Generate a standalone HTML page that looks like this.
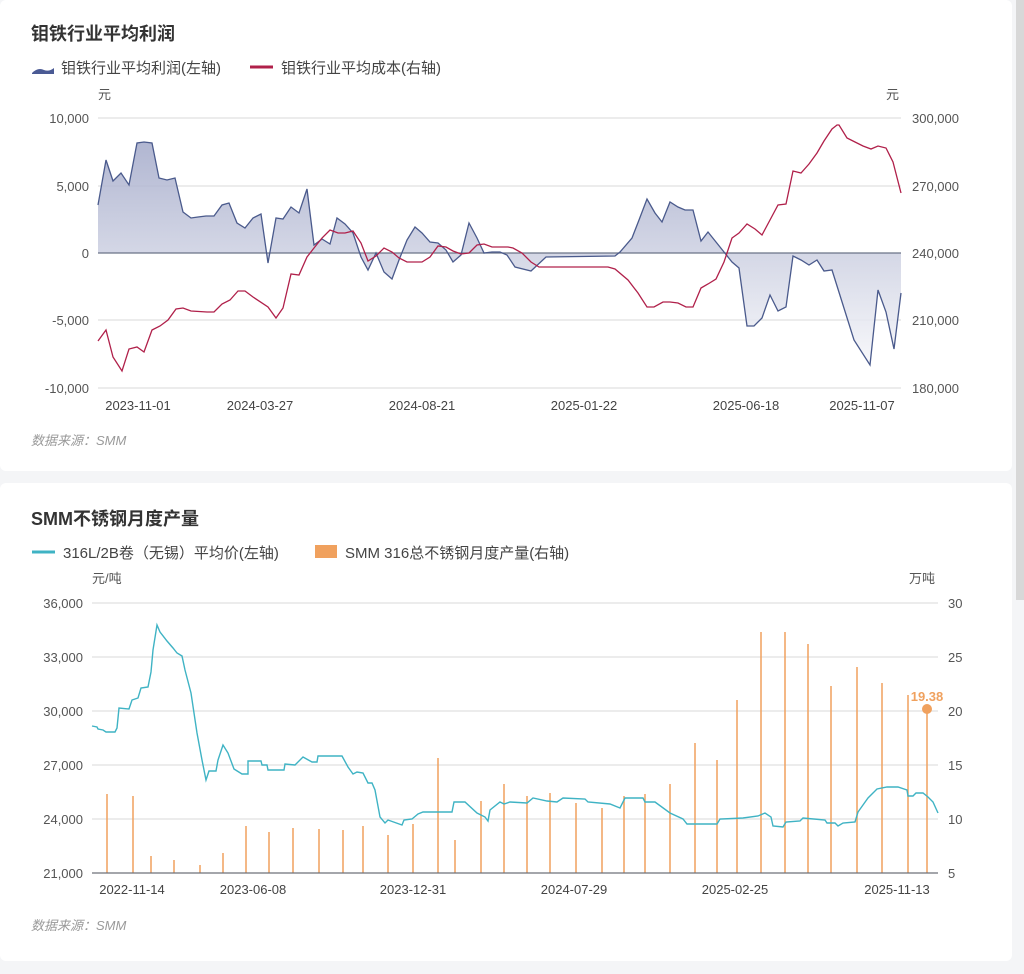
<!DOCTYPE html>
<html><head><meta charset="utf-8"><style>
html,body{margin:0;padding:0;background:#f4f5f7;width:1024px;height:974px;overflow:hidden}
svg{display:block;font-family:"Liberation Sans","Noto Sans CJK SC",sans-serif}
</style></head><body>
<svg width="1024" height="974" viewBox="0 0 1024 974" xmlns="http://www.w3.org/2000/svg">
<defs>
<linearGradient id="g1" gradientUnits="userSpaceOnUse" x1="0" y1="118" x2="0" y2="388">
<stop offset="0" stop-color="#9aa1c4"/><stop offset="1" stop-color="#ffffff"/></linearGradient>
</defs>
<rect x="0" y="0" width="1012" height="471" rx="6" fill="#fff"/>
<rect x="0" y="483" width="1012" height="478" rx="6" fill="#fff"/>
<rect x="1016" y="0" width="8" height="600" fill="#d8d8d8"/>

<!-- Chart 1 -->
<text x="31" y="40" font-size="18" font-weight="bold" fill="#333">钼铁行业平均利润</text>
<path d="M32 73 Q38 67 44 70 Q49 72 54 68 L54 74 L32 74Z" fill="#4a5a94"/>
<text x="61" y="73" font-size="15" fill="#444">钼铁行业平均利润(左轴)</text>
<line x1="250" y1="67" x2="273" y2="67" stroke="#b0204a" stroke-width="3"/>
<text x="281" y="73" font-size="15" fill="#444">钼铁行业平均成本(右轴)</text>
<text x="98" y="99" font-size="13" fill="#555">元</text>
<text x="886" y="99" font-size="13" fill="#555">元</text>
<g stroke="#e6e6e6" stroke-width="1.5">
<line x1="98" y1="118" x2="901" y2="118"/><line x1="98" y1="186" x2="901" y2="186"/>
<line x1="98" y1="320" x2="901" y2="320"/><line x1="98" y1="388" x2="901" y2="388"/></g>
<g font-size="13" fill="#555" text-anchor="end">
<text x="89" y="123">10,000</text><text x="89" y="191">5,000</text><text x="89" y="258">0</text>
<text x="89" y="325">-5,000</text><text x="89" y="393">-10,000</text></g>
<g font-size="13" fill="#555">
<text x="912" y="123">300,000</text><text x="912" y="191">270,000</text><text x="912" y="258">240,000</text>
<text x="912" y="325">210,000</text><text x="912" y="393">180,000</text></g>
<g font-size="13" fill="#444" text-anchor="middle">
<text x="138" y="410">2023-11-01</text><text x="260" y="410">2024-03-27</text><text x="422" y="410">2024-08-21</text>
<text x="584" y="410">2025-01-22</text><text x="746" y="410">2025-06-18</text><text x="862" y="410">2025-11-07</text></g>
<path d="M98 253 L98 205 L106 160 L113 181 L121 173 L129 185 L137 143 L144 142 L152 143 L159 178 L167 180 L175 178 L183 212 L191 218 L198 217 L206 216 L214 216 L222 205 L229 203 L237 223 L245 228 L253 218 L261 214 L268 263 L276 218 L283 219 L291 207 L299 213 L307 189 L314 245 L322 239 L330 244 L337 218 L345 224 L353 233 L361 257 L368 270 L376 253 L384 272 L392 279 L399 260 L407 240 L415 227 L422 233 L430 242 L438 243 L446 250 L453 262 L461 255 L469 223 L477 238 L484 253 L492 252 L500 252 L507 255 L515 267 L531 271 L546 257 L615 256 L620 252 L632 238 L639 220 L647 199 L655 213 L662 222 L670 202 L678 207 L685 210 L693 210 L701 241 L708 232 L716 242 L724 252 L732 262 L739 268 L747 326 L754 326 L762 318 L770 295 L778 311 L786 307 L793 256 L801 260 L809 265 L817 260 L824 271 L832 270 L854 340 L870 365 L878 290 L886 312 L894 349 L901 293 L901 253Z" fill="url(#g1)" fill-opacity="0.85" stroke="none"/>
<line x1="98" y1="253" x2="901" y2="253" stroke="#6b7388" stroke-width="1.2"/>
<polyline fill="none" stroke="#4a5a8c" stroke-width="1.3" points="98,205 106,160 113,181 121,173 129,185 137,143 144,142 152,143 159,178 167,180 175,178 183,212 191,218 198,217 206,216 214,216 222,205 229,203 237,223 245,228 253,218 261,214 268,263 276,218 283,219 291,207 299,213 307,189 314,245 322,239 330,244 337,218 345,224 353,233 361,257 368,270 376,253 384,272 392,279 399,260 407,240 415,227 422,233 430,242 438,243 446,250 453,262 461,255 469,223 477,238 484,253 492,252 500,252 507,255 515,267 531,271 546,257 615,256 620,252 632,238 639,220 647,199 655,213 662,222 670,202 678,207 685,210 693,210 701,241 708,232 716,242 724,252 732,262 739,268 747,326 754,326 762,318 770,295 778,311 786,307 793,256 801,260 809,265 817,260 824,271 832,270 854,340 870,365 878,290 886,312 894,349 901,293"/>
<polyline fill="none" stroke="#b0204a" stroke-width="1.3" points="98,341 106,330 113,357 122,371 129,349 137,347 144,352 152,330 160,326 168,320 176,309 183,308 191,311 207,312 214,312 222,304 230,300 238,291 245,291 253,297 268,307 276,318 283,308 291,274 299,275 307,257 314,248 322,238 330,230 338,233 345,233 353,231 361,243 368,261 376,256 384,248 392,252 399,258 407,262 422,262 430,257 438,246 446,247 453,251 461,254 469,253 477,245 484,244 492,247 508,247 513,248 522,253 531,262 539,267 608,267 615,269 628,280 638,293 647,307 654,307 663,302 670,302 678,303 686,307 693,307 701,288 708,284 716,279 724,262 732,238 739,233 747,224 755,229 762,235 770,220 778,205 786,204 793,171 801,173 809,164 817,153 824,141 832,129 837,125 839,125 847,138 855,142 863,146 871,149 878,146 886,148 893,162 901,193"/>
<text x="31" y="445" font-size="13" font-style="italic" fill="#999">数据来源：SMM</text>

<!-- Chart 2 -->
<text x="31" y="525" font-size="18" font-weight="bold" fill="#333">SMM不锈钢月度产量</text>
<line x1="32" y1="552" x2="55" y2="552" stroke="#3fb3c4" stroke-width="3"/>
<text x="63" y="558" font-size="15" fill="#444">316L/2B卷（无锡）平均价(左轴)</text>
<rect x="315" y="545" width="22" height="13" fill="#f0a15e"/>
<text x="345" y="558" font-size="15" fill="#444">SMM 316总不锈钢月度产量(右轴)</text>
<text x="92" y="583" font-size="13" fill="#555">元/吨</text>
<text x="909" y="583" font-size="13" fill="#555">万吨</text>
<g stroke="#e6e6e6" stroke-width="1.5">
<line x1="92" y1="603" x2="938" y2="603"/><line x1="92" y1="657" x2="938" y2="657"/>
<line x1="92" y1="711" x2="938" y2="711"/><line x1="92" y1="765" x2="938" y2="765"/>
<line x1="92" y1="819" x2="938" y2="819"/></g>
<g font-size="13" fill="#555" text-anchor="end">
<text x="83" y="608">36,000</text><text x="83" y="662">33,000</text><text x="83" y="716">30,000</text>
<text x="83" y="770">27,000</text><text x="83" y="824">24,000</text><text x="83" y="878">21,000</text></g>
<g font-size="13" fill="#555">
<text x="948" y="608">30</text><text x="948" y="662">25</text><text x="948" y="716">20</text>
<text x="948" y="770">15</text><text x="948" y="824">10</text><text x="948" y="878">5</text></g>
<g font-size="13" fill="#444" text-anchor="middle">
<text x="132" y="894">2022-11-14</text><text x="253" y="894">2023-06-08</text><text x="413" y="894">2023-12-31</text>
<text x="574" y="894">2024-07-29</text><text x="735" y="894">2025-02-25</text><text x="897" y="894">2025-11-13</text></g>
<g stroke="#f0a15e" stroke-width="1.5">
<line x1="107" y1="873" x2="107" y2="794"/><line x1="133" y1="873" x2="133" y2="796"/><line x1="151" y1="873" x2="151" y2="856"/>
<line x1="174" y1="873" x2="174" y2="860"/><line x1="200" y1="873" x2="200" y2="865"/><line x1="223" y1="873" x2="223" y2="853"/>
<line x1="246" y1="873" x2="246" y2="826"/><line x1="269" y1="873" x2="269" y2="832"/><line x1="293" y1="873" x2="293" y2="828"/>
<line x1="319" y1="873" x2="319" y2="829"/><line x1="343" y1="873" x2="343" y2="830"/><line x1="363" y1="873" x2="363" y2="826"/>
<line x1="388" y1="873" x2="388" y2="835"/><line x1="413" y1="873" x2="413" y2="824"/><line x1="438" y1="873" x2="438" y2="758"/>
<line x1="455" y1="873" x2="455" y2="840"/><line x1="481" y1="873" x2="481" y2="801"/><line x1="504" y1="873" x2="504" y2="784"/>
<line x1="527" y1="873" x2="527" y2="796"/><line x1="550" y1="873" x2="550" y2="793"/><line x1="576" y1="873" x2="576" y2="803"/>
<line x1="602" y1="873" x2="602" y2="808"/><line x1="624" y1="873" x2="624" y2="796"/><line x1="645" y1="873" x2="645" y2="794"/>
<line x1="670" y1="873" x2="670" y2="784"/><line x1="695" y1="873" x2="695" y2="743"/><line x1="717" y1="873" x2="717" y2="760"/>
<line x1="737" y1="873" x2="737" y2="700"/><line x1="761" y1="873" x2="761" y2="632"/><line x1="785" y1="873" x2="785" y2="632"/>
<line x1="808" y1="873" x2="808" y2="644"/><line x1="831" y1="873" x2="831" y2="686"/><line x1="857" y1="873" x2="857" y2="667"/>
<line x1="882" y1="873" x2="882" y2="683"/><line x1="908" y1="873" x2="908" y2="695"/><line x1="927" y1="873" x2="927" y2="709"/></g>
<line x1="92" y1="873" x2="938" y2="873" stroke="#6e7079" stroke-width="1.2"/>
<polyline fill="none" stroke="#3fb3c4" stroke-width="1.4" points="92,726 97,727 98,729 103,730 106,732 115,732 117,728 119,708 129,709 132,700 138,698 141,688 148,687 151,672 153,650 157,625 160,632 167,641 173,648 177,653 182,656 185,670 191,693 197,733 202,760 206,780 209,771 216,771 218,760 223,745 228,753 234,769 242,774 248,774 248,761 261,761 262,765 267,765 268,770 284,770 285,764 295,765 303,757 312,762 317,762 318,756 342,756 348,767 353,774 357,772 363,773 368,783 372,783 375,790 380,817 385,823 388,820 402,825 404,820 412,819 418,814 423,812 452,812 454,802 465,802 477,813 485,817 488,821 490,810 500,802 504,804 510,802 527,803 533,798 547,801 557,802 563,798 585,799 588,802 610,804 620,808 625,798 643,798 645,802 655,802 670,813 683,819 687,824 717,824 720,819 743,818 758,816 765,813 771,817 773,826 783,827 786,822 800,821 803,818 825,820 827,823 835,823 838,826 843,823 855,822 858,812 868,798 877,789 887,787 898,787 907,790 908,796 913,796 916,793 923,793 928,797 933,802 938,813"/>
<circle cx="927" cy="709" r="5" fill="#f0a15e"/>
<text x="927" y="701" font-size="13" font-weight="bold" fill="#f0a15e" text-anchor="middle">19.38</text>
<text x="31" y="930" font-size="13" font-style="italic" fill="#999">数据来源：SMM</text>
</svg>
</body></html>
